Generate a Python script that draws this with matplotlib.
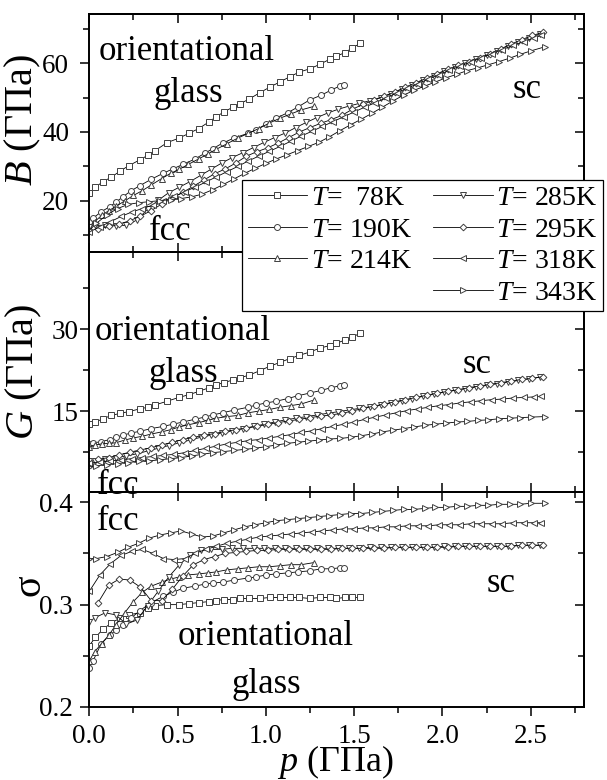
import matplotlib
matplotlib.use('Agg')
import matplotlib.pyplot as plt
from matplotlib.ticker import MultipleLocator
from matplotlib.lines import Line2D

plt.rcParams['font.family'] = ['Liberation Serif', 'DejaVu Serif']
plt.rcParams['mathtext.fontset'] = 'custom'
plt.rcParams['mathtext.rm'] = 'Liberation Serif'
plt.rcParams['mathtext.it'] = 'Liberation Serif:italic'

# pressure grids (GPa), one per temperature
p78 = [0, 0.035, 0.077, 0.125, 0.175, 0.223, 0.285, 0.33, 0.37, 0.44, 0.507, 0.564, 0.62, 0.68, 0.718, 0.762,
       0.813, 0.854, 0.907, 0.966, 1.022, 1.079, 1.135, 1.19, 1.248, 1.305, 1.362, 1.40, 1.447, 1.49, 1.535]
p190 = [0, 0.021, 0.068, 0.115, 0.15, 0.19, 0.238, 0.285, 0.351, 0.417, 0.473, 0.53, 0.596, 0.653, 0.70, 0.756,
        0.822, 0.898, 0.945, 1.001, 1.058, 1.124, 1.18, 1.248, 1.315, 1.371, 1.418, 1.44]
p214 = [0, 0.03, 0.07, 0.11, 0.15, 0.2, 0.25, 0.3, 0.35, 0.41, 0.46, 0.51, 0.56, 0.62, 0.67, 0.72, 0.78, 0.84,
        0.9, 0.96, 1.02, 1.08, 1.14, 1.2, 1.27]
p285 = [0, 0.03, 0.09, 0.15, 0.21, 0.27, 0.33, 0.39, 0.45, 0.51, 0.57, 0.63, 0.69, 0.75, 0.81, 0.87, 0.93, 0.99,
        1.05, 1.11, 1.17, 1.23, 1.29, 1.35, 1.41, 1.47, 1.53, 1.59, 1.65, 1.71, 1.77, 1.83, 1.89, 1.95, 2.01,
        2.07, 2.13, 2.19, 2.25, 2.31, 2.37, 2.43, 2.49, 2.55]
p295 = [0.05, 0.11, 0.17, 0.23, 0.29, 0.35, 0.41, 0.47, 0.53, 0.59, 0.65, 0.71, 0.77, 0.83, 0.89, 0.95, 1.01,
        1.07, 1.13, 1.19, 1.25, 1.31, 1.37, 1.43, 1.49, 1.55, 1.61, 1.67, 1.73, 1.79, 1.85, 1.91, 1.97, 2.03,
        2.09, 2.15, 2.21, 2.27, 2.33, 2.39, 2.45, 2.51, 2.57]
p318 = [0, 0.06, 0.12, 0.18, 0.24, 0.30, 0.36, 0.42, 0.48, 0.54, 0.60, 0.66, 0.72, 0.78, 0.84, 0.90, 0.96, 1.02,
        1.08, 1.14, 1.20, 1.26, 1.32, 1.38, 1.44, 1.50, 1.56, 1.62, 1.68, 1.74, 1.80, 1.86, 1.92, 1.98, 2.04,
        2.10, 2.16, 2.22, 2.28, 2.34, 2.40, 2.46, 2.52, 2.56]
p343 = [0, 0.04, 0.10, 0.16, 0.22, 0.28, 0.34, 0.40, 0.46, 0.52, 0.58, 0.64, 0.70, 0.76, 0.82, 0.88, 0.94, 1.00,
        1.06, 1.12, 1.18, 1.24, 1.30, 1.36, 1.42, 1.48, 1.54, 1.60, 1.66, 1.72, 1.78, 1.84, 1.90, 1.96, 2.02,
        2.08, 2.14, 2.20, 2.26, 2.32, 2.38, 2.44, 2.50, 2.58]

# bulk modulus B (GPa)
B78 = [22.3, 24.0, 25.6, 26.9, 28.7, 30.2, 31.9, 33.2, 34.5, 36.9, 38.2, 39.6, 41.0, 43.0, 44.4, 45.8, 47.2,
       48.2, 49.6, 51.4, 53.0, 54.5, 56.0, 57.4, 58.3, 59.6, 61.1, 62.0, 63.0, 64.4, 65.7]
B190 = [13.8, 15.0, 16.9, 18.3, 19.6, 21.2, 23.0, 24.4, 26.3, 28.0, 29.3, 30.6, 32.1, 33.8, 35.2, 36.8, 38.3,
        39.6, 40.6, 42.3, 44.0, 45.6, 47.2, 49.3, 50.7, 52.2, 53.3, 53.6]
B214 = [12.5, 14.0, 15.8, 17.2, 18.4, 20.0, 21.6, 23.0, 24.6, 26.5, 28.0, 29.2, 30.6, 32.2, 33.6, 35.0, 36.6,
        38.2, 39.6, 41.0, 42.6, 44.0, 45.2, 46.4, 47.4]
B285 = [12.5, 13.0, 12.9, 12.8, 12.9, 14.5, 17.6, 20.2, 22.4, 24.0, 25.6, 27.4, 29.2, 31.0, 32.6, 34.0, 35.5,
        37.0, 38.4, 39.7, 41.3, 42.8, 44.2, 45.5, 46.6, 47.5, 48.3, 49.1, 50.0, 51.1, 52.4, 53.7, 55.0, 56.3,
        57.6, 58.9, 60.1, 61.3, 62.4, 63.6, 64.9, 66.1, 67.3, 68.4]
B295 = [12.0, 12.6, 13.3, 14.3, 15.6, 17.2, 19.1, 20.8, 22.5, 24.3, 26.1, 27.9, 29.3, 31.0, 33.0, 34.3, 35.4,
        36.8, 38.4, 40.0, 41.3, 42.5, 43.6, 44.8, 46.6, 48.0, 49.2, 50.4, 51.6, 53.0, 54.3, 55.6, 56.9, 58.2,
        59.3, 60.4, 61.5, 62.7, 64.1, 65.5, 66.8, 68.0, 68.9]
B318 = [11.0, 12.5, 14.0, 15.5, 16.8, 17.8, 18.8, 20.0, 21.3, 22.7, 24.0, 25.5, 27.0, 28.5, 30.0, 31.6, 33.0,
        34.4, 35.8, 37.3, 38.8, 40.2, 41.6, 43.0, 44.4, 45.8, 47.2, 48.5, 49.9, 51.3, 52.7, 54.0, 55.3, 56.6,
        57.9, 59.1, 60.3, 61.5, 62.7, 63.9, 65.1, 66.2, 67.3, 68.0]
B343 = [11.5, 13.5, 16.0, 17.8, 19.0, 19.5, 19.8, 20.1, 20.4, 20.7, 21.2, 22.0, 23.3, 24.8, 26.4, 28.0, 29.5,
        30.9, 32.2, 33.4, 34.6, 35.8, 37.0, 38.6, 40.4, 42.1, 43.7, 45.4, 47.2, 49.0, 50.7, 52.1, 53.3, 54.5,
        55.7, 56.7, 57.8, 58.6, 59.5, 60.4, 61.4, 62.5, 63.5, 64.7]

# shear modulus G (GPa)
G78 = [12.6, 13.0, 13.6, 14.2, 14.6, 14.9, 15.4, 15.7, 16.1, 16.8, 17.5, 18.0, 18.6, 19.3, 19.8, 20.2, 20.7,
       21.1, 21.6, 22.4, 23.2, 23.9, 24.6, 25.2, 25.8, 26.5, 27.0, 27.4, 28.0, 28.5, 29.3]
G190 = [9.0, 9.2, 9.4, 9.8, 10.2, 10.6, 11.0, 11.3, 11.8, 12.2, 12.6, 13.0, 13.5, 13.9, 14.3, 14.7, 15.2, 15.7,
        16.1, 16.5, 16.8, 17.3, 17.8, 18.3, 18.8, 19.3, 19.6, 19.7]
G214 = [8.5, 8.8, 9.0, 9.1, 9.2, 9.7, 10.1, 10.4, 10.8, 11.2, 11.6, 12.1, 12.5, 12.9, 13.3, 13.7, 14.0, 14.2,
        14.7, 15.0, 15.3, 15.7, 16.0, 16.3, 17.0]
G285 = [5.8, 5.9, 6.2, 6.5, 6.8, 7.2, 7.7, 8.2, 8.7, 9.2, 9.7, 10.2, 10.6, 11.0, 11.4, 11.8, 12.2, 12.6, 13.0,
        13.4, 13.7, 14.0, 14.3, 14.6, 14.9, 15.2, 15.5, 15.8, 16.1, 16.5, 16.9, 17.3, 17.7, 18.1, 18.5, 18.8,
        19.1, 19.4, 19.7, 20.0, 20.3, 20.6, 20.9, 21.2]
G295 = [6.2, 6.5, 7.0, 7.5, 7.9, 8.3, 8.8, 9.3, 9.8, 10.2, 10.6, 10.9, 11.3, 11.6, 11.9, 12.2, 12.6, 12.9, 13.2,
        13.5, 13.8, 14.1, 14.3, 14.6, 15.0, 15.5, 15.9, 16.3, 16.7, 17.1, 17.5, 17.9, 18.3, 18.6, 18.9, 19.3,
        19.6, 19.9, 20.2, 20.5, 20.8, 21.0, 21.3]
G318 = [5.5, 5.7, 5.9, 6.1, 6.3, 6.5, 6.7, 6.9, 7.1, 7.4, 7.8, 8.2, 8.6, 9.0, 9.3, 9.6, 9.8, 10.1, 10.4, 10.7,
        11.1, 11.4, 11.8, 12.2, 12.6, 13.0, 13.5, 13.9, 14.3, 14.7, 15.1, 15.4, 15.7, 16.0, 16.2, 16.5, 16.7,
        16.9, 17.1, 17.2, 17.4, 17.5, 17.6, 17.7]
G343 = [4.8, 5.0, 5.2, 5.4, 5.6, 5.8, 5.9, 6.1, 6.3, 6.5, 6.8, 7.1, 7.4, 7.6, 7.8, 8.0, 8.2, 8.5, 8.8, 9.1, 9.3,
        9.5, 9.7, 9.9, 10.0, 10.2, 10.5, 10.8, 11.2, 11.5, 11.8, 12.1, 12.4, 12.6, 12.8, 13.0, 13.1, 13.3, 13.4,
        13.6, 13.7, 13.8, 13.9, 14.0]

# Poisson ratio sigma
s78 = [0.260, 0.268, 0.276, 0.282, 0.287, 0.290, 0.292, 0.297, 0.299, 0.300, 0.300, 0.301, 0.302, 0.303, 0.304,
       0.305, 0.305, 0.306, 0.306, 0.306, 0.307, 0.307, 0.307, 0.307, 0.306, 0.307, 0.307, 0.306, 0.307, 0.307,
       0.307]
s190 = [0.238, 0.245, 0.262, 0.270, 0.275, 0.280, 0.287, 0.294, 0.302, 0.308, 0.312, 0.316, 0.318, 0.320, 0.321,
        0.322, 0.324, 0.326, 0.327, 0.329, 0.330, 0.331, 0.332, 0.333, 0.335, 0.335, 0.336, 0.336]
s214 = [0.245, 0.254, 0.262, 0.270, 0.280, 0.292, 0.303, 0.312, 0.318, 0.322, 0.325, 0.327, 0.329, 0.330, 0.331,
        0.332, 0.334, 0.335, 0.336, 0.337, 0.337, 0.338, 0.339, 0.339, 0.341]
s285 = [0.283, 0.287, 0.292, 0.290, 0.281, 0.285, 0.299, 0.313, 0.327, 0.339, 0.348, 0.353, 0.354, 0.354, 0.355,
        0.355, 0.355, 0.355, 0.355, 0.355, 0.355, 0.355, 0.355, 0.355, 0.355, 0.355, 0.355, 0.356, 0.356, 0.356,
        0.356, 0.356, 0.356, 0.356, 0.357, 0.357, 0.357, 0.357, 0.357, 0.357, 0.357, 0.358, 0.358, 0.358]
s295 = [0.302, 0.319, 0.325, 0.324, 0.317, 0.304, 0.304, 0.315, 0.328, 0.339, 0.344, 0.347, 0.350, 0.351, 0.352,
        0.353, 0.353, 0.354, 0.354, 0.354, 0.354, 0.354, 0.354, 0.355, 0.355, 0.355, 0.355, 0.355, 0.356, 0.356,
        0.356, 0.356, 0.356, 0.356, 0.357, 0.357, 0.357, 0.357, 0.357, 0.357, 0.358, 0.358, 0.358]
s318 = [0.313, 0.329, 0.340, 0.348, 0.352, 0.354, 0.350, 0.345, 0.344, 0.345, 0.350, 0.354, 0.357, 0.360, 0.362,
        0.364, 0.366, 0.367, 0.368, 0.369, 0.370, 0.371, 0.372, 0.373, 0.374, 0.374, 0.375, 0.375, 0.376, 0.376,
        0.377, 0.377, 0.377, 0.378, 0.378, 0.378, 0.379, 0.379, 0.379, 0.379, 0.380, 0.380, 0.380, 0.380]
s343 = [0.345, 0.345, 0.347, 0.351, 0.356, 0.360, 0.365, 0.368, 0.370, 0.372, 0.369, 0.366, 0.367, 0.370, 0.373,
        0.376, 0.378, 0.380, 0.382, 0.383, 0.384, 0.385, 0.386, 0.387, 0.388, 0.389, 0.389, 0.390, 0.391, 0.392,
        0.393, 0.393, 0.394, 0.395, 0.395, 0.396, 0.396, 0.397, 0.397, 0.398, 0.398, 0.398, 0.399, 0.399]

legend_labels = ['$T$=  78K', '$T$= 190K', '$T$= 214K', '$T$= 285K', '$T$= 295K', '$T$= 318K', '$T$= 343K']
markers = ['s', 'o', '^', 'v', 'D', '<', '>']
msizes = [4.0, 4.3, 4.6, 4.6, 3.4, 4.6, 4.6]
p_all = [p78, p190, p214, p285, p295, p318, p343]
B_all = [B78, B190, B214, B285, B295, B318, B343]
G_all = [G78, G190, G214, G285, G295, G318, G343]
s_all = [s78, s190, s214, s285, s295, s318, s343]

fig = plt.figure(figsize=(6.07, 7.8), dpi=100)
ax1 = fig.add_axes([0.1471, 0.6769, 0.8145, 0.3051])
ax2 = fig.add_axes([0.1471, 0.3692, 0.8145, 0.3077])
ax3 = fig.add_axes([0.1471, 0.0936, 0.8145, 0.2756])

edge = '#404040'
handles = []
for ax, data in [(ax1, B_all), (ax2, G_all), (ax3, s_all)]:
    for i in range(7):
        ln, = ax.plot(p_all[i], data[i], '-', color='black', lw=0.6, marker=markers[i], ms=msizes[i],
                      mfc='white', mec=edge, mew=0.7)
        if ax is ax1:
            handles.append(ln)


def style(ax, ymaj, ymin, bottom_out, ypad):
    ax.set_facecolor('none')
    ax.set_xlim(0, 2.8)
    ax.xaxis.set_major_locator(MultipleLocator(0.5))
    ax.xaxis.set_minor_locator(MultipleLocator(0.25))
    ax.yaxis.set_major_locator(MultipleLocator(ymaj))
    ax.yaxis.set_minor_locator(MultipleLocator(ymin))
    ax.tick_params(axis='x', which='both', direction='out' if bottom_out else 'in', top=False, width=1.1,
                   labelsize=19.5, pad=6, labelbottom=bottom_out)
    ax.tick_params(axis='y', which='both', direction='out', right=False, width=1.1, labelsize=19.5, pad=ypad)
    ax.tick_params(which='major', length=6.5)
    ax.tick_params(which='minor', length=4)
    for sp in ax.spines.values():
        sp.set_linewidth(1.4)
    sx = ax.secondary_xaxis('top')
    sx.xaxis.set_major_locator(MultipleLocator(0.5))
    sx.xaxis.set_minor_locator(MultipleLocator(0.25))
    sx.tick_params(which='both', direction='in', labeltop=False, width=1.1)
    sx.tick_params(which='major', length=6.5)
    sx.tick_params(which='minor', length=4)
    sx.spines['top'].set_linewidth(1.4)
    sy = ax.secondary_yaxis('right')
    sy.yaxis.set_major_locator(MultipleLocator(ymaj))
    sy.yaxis.set_minor_locator(MultipleLocator(ymin))
    sy.tick_params(which='both', direction='in', labelright=False, width=1.1)
    sy.tick_params(which='major', length=6.5)
    sy.tick_params(which='minor', length=4)
    sy.spines['right'].set_linewidth(1.4)


style(ax1, 20, 10, False, 8.0)
style(ax2, 15, 7.5, False, 1.5)
style(ax3, 0.1, 0.05, True, 5.5)
ax1.set_ylim(5.2, 74.2)
ax2.set_ylim(0.2, 44.1)
ax3.set_ylim(0.2, 0.41)
ax3.set_yticks([0.2, 0.3, 0.4])
ax3.set_yticklabels(['0.2', '0.3', '0.4'])
ax3.set_xticks([0, 0.5, 1.0, 1.5, 2.0, 2.5])
ax3.set_xticklabels(['0.0', '0.5', '1.0', '1.5', '2.0', '2.5'])

fs = 25
kw = dict(fontsize=fs, va='baseline', clip_on=False, zorder=5)
ax1.text(0.018, 0.807, 'orientational', ha='left', transform=ax1.transAxes, **kw)
ax1.text(0.2, 0.632, 'glass', ha='center', transform=ax1.transAxes, **kw)
ax1.text(0.163, 0.05, 'fcc', ha='center', transform=ax1.transAxes, **kw)
ax1.text(0.885, 0.646, 'sc', ha='center', transform=ax1.transAxes, **kw)
ax2.text(0.0115, 0.633, 'orientational', ha='left', transform=ax2.transAxes, **kw)
ax2.text(0.19, 0.46, 'glass', ha='center', transform=ax2.transAxes, **kw)
ax2.text(0.785, 0.495, 'sc', ha='center', transform=ax2.transAxes, **kw)
ax2.text(0.058, -0.01, 'fcc', ha='center', transform=ax2.transAxes, **kw)
ax3.text(0.058, 0.823, 'fcc', ha='center', transform=ax3.transAxes, **kw)
ax3.text(0.833, 0.536, 'sc', ha='center', transform=ax3.transAxes, **kw)
ax3.text(0.357, 0.288, 'orientational', ha='center', transform=ax3.transAxes, **kw)
ax3.text(0.358, 0.065, 'glass', ha='center', transform=ax3.transAxes, **kw)

fig.text(0.038, 0.846, '$B$ (ГПа)', rotation=90, ha='center', va='center', fontsize=29)
fig.text(0.040, 0.523, '$G$ (ГПа)', rotation=90, ha='center', va='center', fontsize=29)
fig.text(0.050, 0.250, 'σ', rotation=90, ha='center', va='center', fontsize=29)
fig.text(0.553, 1 - 771 / 780, '$p$ (ГПа)', ha='center', va='baseline', fontsize=26)

# legend: blank entry so the first column holds three rows
blank = Line2D([], [], lw=0, marker=None)
leg_handles = handles[:3] + [blank] + handles[3:]
leg_labels = legend_labels[:3] + [''] + legend_labels[3:]
leg = fig.legend(leg_handles, leg_labels, loc='upper left', bbox_to_anchor=(0.3987, 0.7692), ncol=2,
                 fontsize=20, frameon=True, fancybox=False, edgecolor='black', framealpha=1,
                 handlelength=2.15, handletextpad=0.12, columnspacing=0.75, labelspacing=0.22,
                 borderpad=0.2, borderaxespad=0)
leg.get_frame().set_linewidth(0.9)
leg.set_zorder(10)

fig.savefig('out.png', dpi=100)
